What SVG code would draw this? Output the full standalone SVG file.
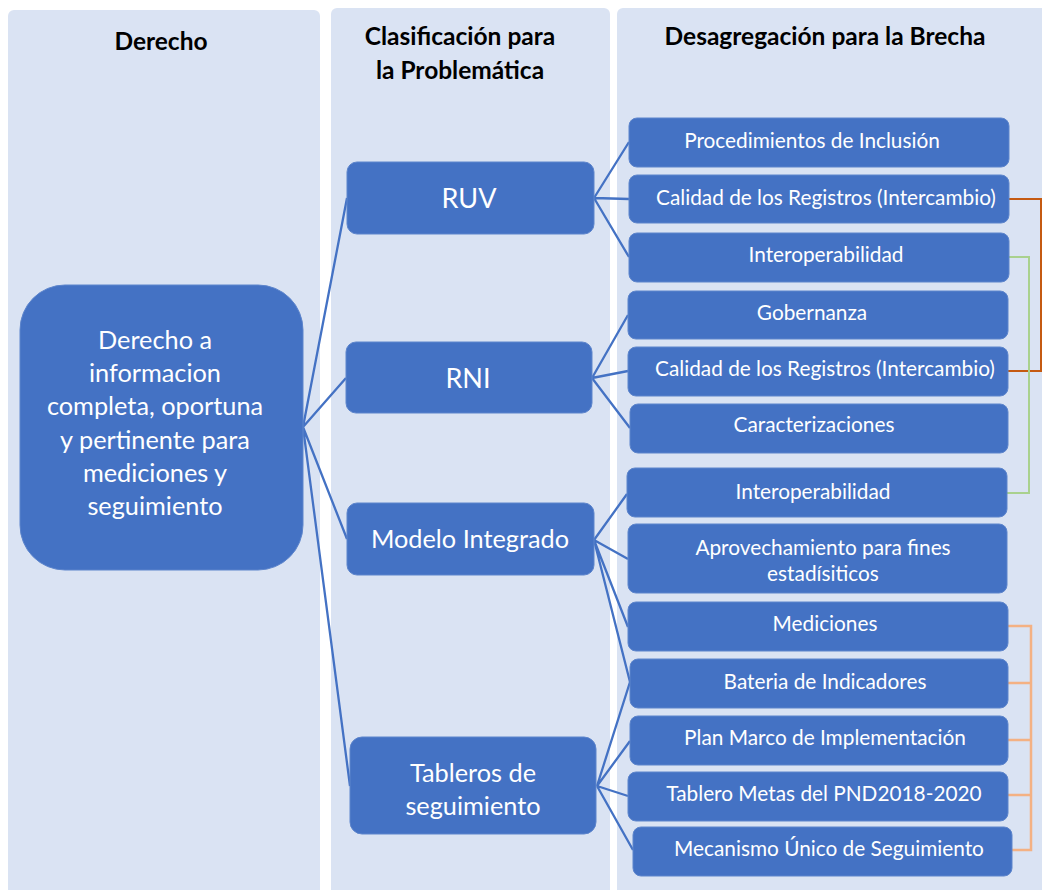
<svg xmlns="http://www.w3.org/2000/svg" width="1042" height="890" viewBox="0 0 1042 890">
<style>
.panel{fill:#dae3f3}
.node{fill:#4472c4;stroke:#5d85cc;stroke-width:1}
.hdr{font-family:Lato,"Liberation Sans",sans-serif;font-weight:bold;font-size:24.5px;fill:#000;text-anchor:middle;dominant-baseline:central}
.t{font-family:Lato,"Liberation Sans",sans-serif;fill:#fff;text-anchor:middle;dominant-baseline:central}
.s{font-size:20.8px}
.m{font-size:25.3px}
.l{font-size:27px}
.c{fill:none;stroke:#4472c4;stroke-width:2.3}
.b1{fill:none;stroke:#c55a11;stroke-width:2}
.b2{fill:none;stroke:#a9d18e;stroke-width:2}
.b3{fill:none;stroke:#f4b183;stroke-width:2.5}
</style>
<rect width="1042" height="890" fill="#fff"/>
<g id="panels">
<rect class="panel" x="8" y="10" width="312" height="890" rx="6"/>
<rect class="panel" x="331" y="8" width="279" height="892" rx="6"/>
<rect class="panel" x="617" y="8" width="440" height="892" rx="6"/>
<text class="hdr" x="161" y="40">Derecho</text>
<text class="hdr" x="460" y="35.5">Clasificación para</text>
<text class="hdr" x="460" y="69.5">la Problemática</text>
<text class="hdr" x="825" y="35.5">Desagregación para la Brecha</text>
</g>
<g id="connectors">
<path class="c" d="M303 427L347 198M303 427L346 378M303 427L347 539M303 427L350 786"/>
<path class="c" d="M594 198L629 142M594 198L629 199M594 198L629 257"/>
<path class="c" d="M592 378L628 315M592 378L628 371M592 378L630 428"/>
<path class="c" d="M594 540L627 494M594 540L628 559M594 540L628 627M594 540L630 682"/>
<path class="c" d="M597 786L630 682M597 786L630 741M597 786L628 796M597 786L633 850"/>
<path class="b1" d="M1009 199H1041V371H1008"/>
<path class="b2" d="M1009 257H1029V493H1007"/>
<path class="b3" d="M1008 626H1031V850H1012M1008 683H1031M1008 740H1031M1008 795H1031"/>
</g>
<g id="n-main"><rect class="node" x="20" y="285" width="283" height="285" rx="45"/>
<text class="t m" x="155"><tspan x="155" y="339">Derecho a</tspan><tspan x="155" y="372">informacion</tspan><tspan x="155" y="405">completa, oportuna</tspan><tspan x="155" y="439">y pertinente para</tspan><tspan x="155" y="472">mediciones y</tspan><tspan x="155" y="505">seguimiento</tspan></text></g>
<g id="n-ruv"><rect class="node" x="347" y="162" width="247" height="72" rx="10"/><text class="t l" x="469" y="197">RUV</text></g>
<g id="n-rni"><rect class="node" x="346" y="342" width="246" height="71" rx="10"/><text class="t l" x="468" y="377">RNI</text></g>
<g id="n-modelo"><rect class="node" x="347" y="503" width="247" height="72" rx="10"/><text class="t m" x="470" y="538">Modelo Integrado</text></g>
<g id="n-tableros"><rect class="node" x="350" y="737" width="246" height="97" rx="12"/><text class="t m"><tspan x="473" y="772">Tableros de</tspan><tspan x="473" y="805">seguimiento</tspan></text></g>
<g id="n-proc"><rect class="node" x="629" y="118" width="380" height="49" rx="8"/><text class="t s" x="812" y="139.5">Procedimientos de Inclusión</text></g>
<g id="n-cal1"><rect class="node" x="629" y="175" width="380" height="48" rx="8"/><text class="t s" x="826" y="196.5">Calidad de los Registros (Intercambio)</text></g>
<g id="n-inter1"><rect class="node" x="629" y="233" width="380" height="49" rx="8"/><text class="t s" x="826" y="253.5">Interoperabilidad</text></g>
<g id="n-gob"><rect class="node" x="628" y="291" width="380" height="48" rx="8"/><text class="t s" x="812" y="311.5">Gobernanza</text></g>
<g id="n-cal2"><rect class="node" x="628" y="347" width="380" height="49" rx="8"/><text class="t s" x="825" y="367.5">Calidad de los Registros (Intercambio)</text></g>
<g id="n-carac"><rect class="node" x="630" y="404" width="378" height="49" rx="8"/><text class="t s" x="814" y="423.5">Caracterizaciones</text></g>
<g id="n-inter2"><rect class="node" x="627" y="468" width="380" height="49" rx="8"/><text class="t s" x="813" y="490.5">Interoperabilidad</text></g>
<g id="n-aprov"><rect class="node" x="628" y="524" width="379" height="69" rx="8"/><text class="t s"><tspan x="823" y="545.5">Aprovechamiento para fines</tspan><tspan x="823" y="571.5">estadísiticos</tspan></text></g>
<g id="n-medic"><rect class="node" x="628" y="602" width="380" height="49" rx="8"/><text class="t s" x="825" y="622.5">Mediciones</text></g>
<g id="n-bat"><rect class="node" x="630" y="659" width="378" height="49" rx="8"/><text class="t s" x="825" y="680.5">Bateria de Indicadores</text></g>
<g id="n-plan"><rect class="node" x="630" y="716" width="378" height="49" rx="8"/><text class="t s" x="825" y="736.5">Plan Marco de Implementación</text></g>
<g id="n-tab"><rect class="node" x="628" y="772" width="380" height="49" rx="8"/><text class="t s" x="824" y="792.5">Tablero Metas del PND2018-2020</text></g>
<g id="n-mec"><rect class="node" x="633" y="827" width="379" height="49" rx="8"/><text class="t s" x="829" y="847.5">Mecanismo Único de Seguimiento</text></g>
</svg>
